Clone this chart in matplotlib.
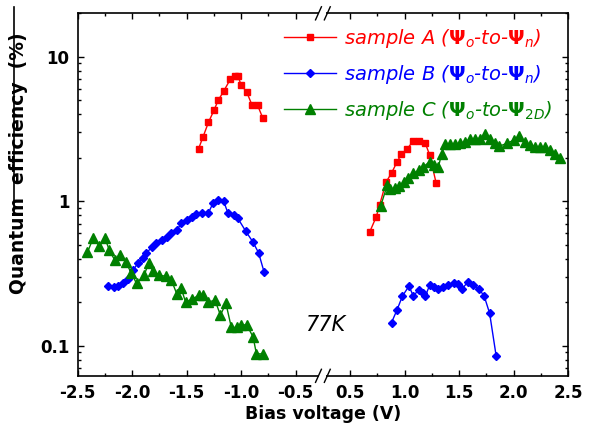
import numpy as np
import matplotlib
matplotlib.use('Agg')
import matplotlib.pyplot as plt
from matplotlib.lines import Line2D
from matplotlib.ticker import FixedLocator, LogLocator, NullFormatter, FixedFormatter

# ---- data (bias in V, quantum efficiency in %) ----
# sample A
a_neg_v = [-1.39, -1.35, -1.30, -1.25, -1.21, -1.16, -1.10, -1.06, -1.03, -1.00, -0.95, -0.90, -0.85, -0.80]
a_neg_qe = [2.32, 2.79, 3.52, 4.26, 5.01, 5.79, 6.98, 7.39, 7.39, 6.37, 5.73, 4.63, 4.63, 3.75]
a_pos_v = [0.68, 0.74, 0.77, 0.83, 0.88, 0.93, 0.97, 1.02, 1.08, 1.13, 1.19, 1.23, 1.29]
a_pos_qe = [0.615, 0.782, 0.942, 1.36, 1.57, 1.87, 2.12, 2.29, 2.62, 2.62, 2.52, 2.09, 1.33]

# sample B
b_neg_v = [-2.22, -2.17, -2.13, -2.08, -2.04, -1.99, -1.95, -1.90, -1.87, -1.82, -1.78, -1.73, -1.68, -1.64,
           -1.59, -1.55, -1.50, -1.45, -1.41, -1.36, -1.30, -1.26, -1.21, -1.16, -1.12, -1.07, -1.03, -0.96,
           -0.89, -0.84, -0.79]
b_neg_qe = [0.259, 0.254, 0.259, 0.270, 0.290, 0.334, 0.372, 0.403, 0.436, 0.484, 0.511, 0.539, 0.568, 0.600,
            0.632, 0.703, 0.741, 0.782, 0.815, 0.824, 0.832, 0.966, 1.02, 1.00, 0.824, 0.801, 0.762, 0.625,
            0.520, 0.440, 0.325]
b_pos_v = [0.88, 0.93, 0.98, 1.04, 1.08, 1.13, 1.17, 1.19, 1.23, 1.27, 1.31, 1.35, 1.40, 1.45, 1.49, 1.53,
           1.58, 1.63, 1.68, 1.73, 1.78, 1.84]
b_pos_qe = [0.145, 0.177, 0.221, 0.259, 0.221, 0.245, 0.233, 0.221, 0.263, 0.254, 0.249, 0.256, 0.263, 0.270,
            0.267, 0.249, 0.277, 0.263, 0.249, 0.221, 0.168, 0.085]

# sample C
c_neg_v = [-2.41, -2.36, -2.30, -2.25, -2.21, -2.16, -2.11, -2.06, -2.01, -1.96, -1.89, -1.85, -1.81, -1.75,
           -1.69, -1.64, -1.59, -1.55, -1.51, -1.45, -1.39, -1.35, -1.30, -1.24, -1.19, -1.14, -1.09, -1.04,
           -1.00, -0.95, -0.89, -0.86, -0.80]
c_neg_qe = [0.443, 0.553, 0.490, 0.558, 0.459, 0.392, 0.425, 0.381, 0.321, 0.270, 0.308, 0.372, 0.330, 0.308,
            0.303, 0.285, 0.228, 0.250, 0.201, 0.210, 0.224, 0.224, 0.201, 0.207, 0.163, 0.197, 0.134, 0.134,
            0.139, 0.140, 0.115, 0.088, 0.088]
c_pos_v = [0.78, 0.84, 0.87, 0.91, 0.95, 0.99, 1.03, 1.08, 1.13, 1.17, 1.23, 1.27, 1.31, 1.34, 1.37, 1.42,
           1.46, 1.51, 1.55, 1.60, 1.65, 1.69, 1.74, 1.78, 1.83, 1.87, 1.94, 2.00, 2.05, 2.10, 2.15, 2.20,
           2.24, 2.29, 2.33, 2.38, 2.43]
c_pos_qe = [0.927, 1.29, 1.21, 1.23, 1.27, 1.36, 1.46, 1.56, 1.64, 1.73, 1.88, 1.78, 1.73, 2.14, 2.49, 2.49,
            2.49, 2.52, 2.58, 2.68, 2.72, 2.72, 2.92, 2.72, 2.54, 2.41, 2.52, 2.65, 2.83, 2.58, 2.45, 2.38,
            2.38, 2.36, 2.26, 2.14, 2.01]

x_ticks_v = [-2.5, -2.0, -1.5, -1.0, -0.5, 0.5, 1.0, 1.5, 2.0, 2.5]
x_minor_v = [-2.25, -1.75, -1.25, -0.75, 0.75, 1.25, 1.75, 2.25]


def brk(v):
    # axis is broken between -0.5 and 0.5 V: shift the positive side left by 0.5
    v = np.asarray(v, dtype=float)
    return np.where(v > 0, v - 0.5, v)


plt.rcParams['font.family'] = 'DejaVu Sans'
plt.rcParams['mathtext.fontset'] = 'dejavusans'

fig = plt.figure(figsize=(5.93, 4.30), dpi=100)
ax = fig.add_axes([0.131, 0.126, 0.827, 0.843])

red = '#ff0000'
blue = '#0000ff'
green = '#008000'

ax.plot(brk(a_neg_v), a_neg_qe, '-s', color=red, ms=5, lw=1, mec=red,
        label=r'sample A ($\mathbf{\Psi}_o$-to-$\mathbf{\Psi}_n$)')
ax.plot(brk(a_pos_v), a_pos_qe, '-s', color=red, ms=5, lw=1, mec=red)
ax.plot(brk(b_neg_v), b_neg_qe, '-D', color=blue, ms=4, lw=1, mec=blue,
        label=r'sample B ($\mathbf{\Psi}_o$-to-$\mathbf{\Psi}_n$)')
ax.plot(brk(b_pos_v), b_pos_qe, '-D', color=blue, ms=4, lw=1, mec=blue)
ax.plot(brk(c_neg_v), c_neg_qe, '-^', color=green, ms=7, lw=1, mec=green,
        label=r'sample C ($\mathbf{\Psi}_o$-to-$\mathbf{\Psi}_{2D}$)')
ax.plot(brk(c_pos_v), c_pos_qe, '-^', color=green, ms=7, lw=1, mec=green)

ax.set_yscale('log')
ax.set_ylim(0.062, 20)
ax.set_xlim(-2.5, 2.0)

ax.xaxis.set_major_locator(FixedLocator(brk(x_ticks_v)))
ax.xaxis.set_major_formatter(FixedFormatter(['%.1f' % v for v in x_ticks_v]))
ax.xaxis.set_minor_locator(FixedLocator(brk(x_minor_v)))
ax.set_yticks([0.1, 1, 10])
ax.set_yticklabels(['0.1', '1', '10'])
ax.yaxis.set_minor_locator(LogLocator(base=10, subs=np.arange(2, 10)))
ax.yaxis.set_minor_formatter(NullFormatter())

ax.tick_params(which='both', direction='in', top=True, right=True, width=1)
ax.tick_params(which='major', length=4.5, labelsize=12, pad=6)
ax.tick_params(which='minor', length=2.5)
for lab in ax.get_xticklabels() + ax.get_yticklabels():
    lab.set_fontweight('bold')
for sp in ax.spines.values():
    sp.set_linewidth(1.2)

ax.set_xlabel('Bias voltage (V)', fontsize=12.5, fontweight='bold', labelpad=2)
ax.set_ylabel('Quantum  efficiency  (%)', fontsize=13.5, fontweight='bold')
ax.yaxis.set_label_coords(-0.101, 0.587)

# break marks on top and bottom spines
for yb in (0.0, 1.0):
    ax.plot([0.493, 0.507], [yb, yb], transform=ax.transAxes, color='white', lw=3,
            clip_on=False, zorder=5, solid_capstyle='butt')
    for dx in (-0.009, 0.009):
        ax.plot([0.5 + dx - 0.006, 0.5 + dx + 0.006], [yb - 0.018, yb + 0.018], transform=ax.transAxes,
                color='black', lw=1, clip_on=False, zorder=6)

ax.text(-0.23, 0.139, '77K', fontsize=15, fontstyle='italic', ha='center', va='center')

leg = ax.legend(loc='upper left', bbox_to_anchor=(0.4, 0.99), frameon=False, numpoints=1,
                handlelength=2.7, handletextpad=0.4, labelspacing=0.68, borderpad=0,
                prop={'size': 14, 'style': 'italic'})
for txt, c in zip(leg.get_texts(), [red, blue, green]):
    txt.set_color(c)

# thin vertical rule at the left edge of the original page
fig.add_artist(Line2D([0.0236, 0.0236], [0.5, 0.984], color='black', lw=1.2))

fig.savefig('out.png', dpi=100)
